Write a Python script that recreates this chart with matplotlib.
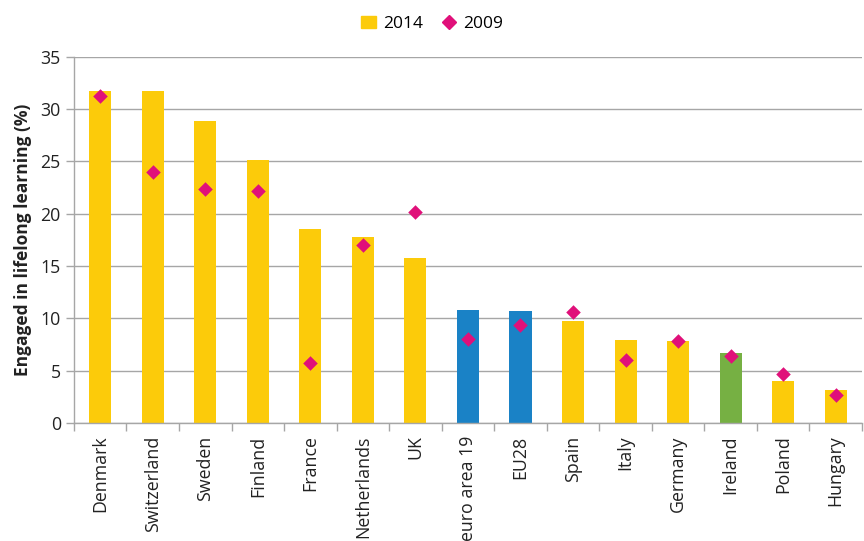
import matplotlib
matplotlib.use("Agg")
import matplotlib.pyplot as plt
from matplotlib.patches import Patch
import numpy as np

# DATA
countries = ["Denmark", "Switzerland", "Sweden", "Finland", "France", "Netherlands", "UK",
             "euro area 19", "EU28", "Spain", "Italy", "Germany", "Ireland", "Poland", "Hungary"]
vals_2014 = [31.7, 31.7, 28.9, 25.1, 18.5, 17.8, 15.8, 10.8, 10.7, 9.8, 7.9, 7.8, 6.7, 4.0, 3.2]
vals_2009 = [31.3, 24.0, 22.4, 22.2, 5.7, 17.0, 20.2, 8.0, 9.4, 10.6, 6.0, 7.8, 6.4, 4.7, 2.7]

YELLOW = "#FCCB0A"
BLUE = "#1A82C6"
GREEN = "#76B043"
PINK = "#E0107A"
GRID = "#A6A6A6"

bar_colors = []
for c in countries:
    if c in ("euro area 19", "EU28"):
        bar_colors.append(BLUE)
    elif c == "Ireland":
        bar_colors.append(GREEN)
    else:
        bar_colors.append(YELLOW)

plt.rcParams["font.family"] = ["Open Sans", "DejaVu Sans"]

fig = plt.figure(figsize=(8.64, 5.41), dpi=100)
ax = fig.add_axes([0.0856, 0.218, 0.912, 0.677])

x = np.arange(len(countries))
ax.bar(x, vals_2014, width=0.42, color=bar_colors, zorder=2, label="2014")
ax.scatter(x, vals_2009, marker="D", s=55, color=PINK, zorder=3, label="2009", linewidths=0)

ax.set_xlim(-0.5, len(countries) - 0.5)
ax.set_ylim(0, 35)
ax.set_yticks(range(0, 36, 5))
ax.grid(axis="y", color=GRID, linewidth=1, zorder=0)

ax.set_xticks(x)
ax.set_xticklabels(countries, rotation=90, fontsize=12.8, color="#222222")
ax.tick_params(axis="x", which="major", length=0, pad=9)
ax.set_xticks(np.arange(-0.5, len(countries), 1), minor=True)
ax.tick_params(axis="x", which="minor", length=6, color=GRID, width=1)
ax.tick_params(axis="y", length=6, color=GRID, width=1, labelsize=12.8, labelcolor="#222222")

for side in ("top", "right"):
    ax.spines[side].set_visible(False)
for side in ("left", "bottom"):
    ax.spines[side].set_color(GRID)
    ax.spines[side].set_linewidth(1)

ax.set_ylabel("Engaged in lifelong learning (%)", fontsize=12.5, fontweight="bold",
              color="#222222", labelpad=6)

leg_handles = [Patch(color=YELLOW),
               plt.Line2D([], [], marker="D", color=PINK, linestyle="none", markersize=7)]
fig.legend(leg_handles, ["2014", "2009"], loc="upper center", bbox_to_anchor=(0.5, 1.0),
           ncol=2, frameon=False, fontsize=12.5, handlelength=0.9, handletextpad=0.4,
           columnspacing=1.0)

fig.savefig("out.png", dpi=100)
